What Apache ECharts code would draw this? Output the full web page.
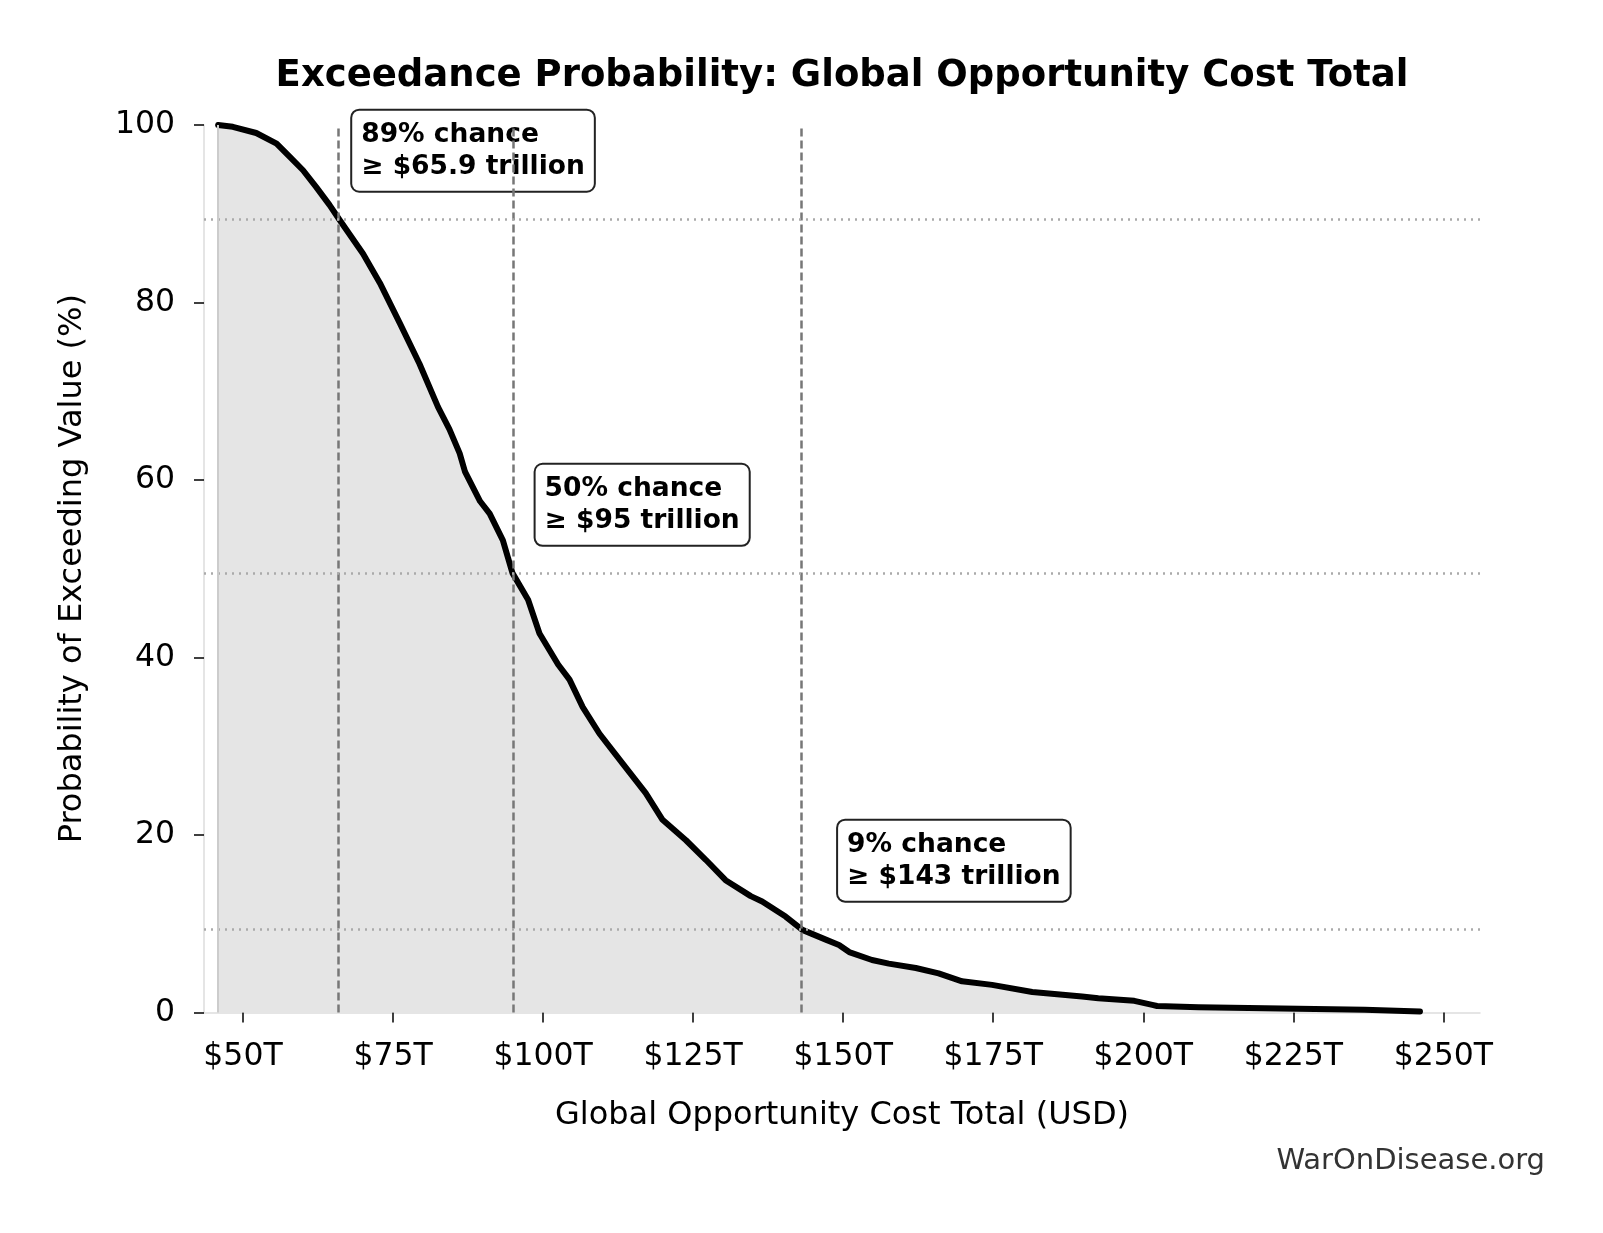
<!DOCTYPE html>
<html><head><meta charset="utf-8">
<script src="https://cdn.jsdelivr.net/npm/echarts@6/dist/echarts.min.js"></script>
<style>html,body{margin:0;padding:0;background:#fff}#c{width:1603px;height:1233px}</style>
</head><body><div id="c"></div>
<script>
// Global opportunity cost total (trillion USD) and exceedance probability (%)
const costT = [45.85, 48.3, 52.2, 55.6, 57.8, 60.0, 62.2, 64.4, 66.1, 70.0, 72.8, 76.1, 79.4, 82.5, 84.4, 86.1, 87.0, 89.5, 91.1, 93.3, 94.9, 97.5, 99.4, 102.5, 104.4, 106.6, 109.4, 113.2, 117.1, 119.9, 123.8, 127.1, 130.4, 134.6, 136.5, 140.4, 143.2, 147.1, 149.3, 151.0, 154.8, 157.6, 162.1, 165.9, 169.8, 174.8, 181.5, 189.8, 192.5, 198.5, 201.5, 202.3, 209.2, 217.5, 225.8, 236.9, 246.1];
const probPct = [100, 99.8, 99.1, 97.9, 96.4, 94.9, 93.0, 91.0, 89.3, 85.5, 82.2, 77.7, 73.1, 68.2, 65.7, 63.0, 60.9, 57.6, 56.2, 53.2, 49.5, 46.5, 42.7, 39.2, 37.5, 34.4, 31.4, 28.1, 24.7, 21.7, 19.4, 17.2, 14.9, 13.1, 12.5, 10.8, 9.3, 8.2, 7.6, 6.8, 5.9, 5.5, 5.0, 4.4, 3.5, 3.1, 2.3, 1.8, 1.6, 1.3, 0.85, 0.72, 0.57, 0.5, 0.42, 0.3, 0.1];
const xTickValues = [50, 75, 100, 125, 150, 175, 200, 225, 250];
const yTickValues = [0, 20, 40, 60, 80, 100];
const thresholdCostT = [65.9, 95, 143];
const thresholdProb = [89.4, 49.5, 9.4];
const annotationTexts = ['89% chance\n≥ $65.9 trillion', '50% chance\n≥ $95 trillion', '9% chance\n≥ $143 trillion'];

const FONT = '"DejaVu Sans", "Liberation Sans", sans-serif';
const curve = costT.map((x, i) => [x, probPct[i]]);

const chart = echarts.init(document.getElementById('c'), null, {renderer: 'canvas'});
const marks = [];
thresholdCostT.forEach(v => marks.push({xAxis: v, lineStyle: {color: '#777777', width: 2.5, type: [8, 4]}}));
thresholdProb.forEach(p => marks.push({yAxis: p, lineStyle: {color: '#aaaaaa', width: 2.5, type: [2, 5]}}));
marks.push({xAxis: costT[0], lineStyle: {color: '#cccccc', width: 2, type: 'solid'}});

chart.setOption({
  animation: false,
  backgroundColor: '#ffffff',
  grid: {left: 204, top: 125, width: 1276, height: 887.4, containLabel: false},
  xAxis: {
    type: 'value', min: 43.5, max: 256.1,
    name: 'Global Opportunity Cost Total (USD)', nameLocation: 'middle', nameGap: 87,
    nameTextStyle: {fontFamily: FONT, fontSize: 32, color: '#000'},
    axisLine: {show: true, lineStyle: {color: '#dddddd', width: 1.5}},
    axisTick: {show: true, length: 10, lineStyle: {color: '#000', width: 1.5}, customValues: xTickValues},
    axisLabel: {customValues: xTickValues, formatter: v => '$' + v + 'T', fontFamily: FONT, fontSize: 31.5, color: '#000', margin: 28},
    splitLine: {show: false}
  },
  yAxis: {
    type: 'value', min: 0, max: 100, interval: 20,
    name: 'Probability of Exceeding Value (%)', nameLocation: 'middle', nameGap: 115, nameRotate: 90,
    nameTextStyle: {fontFamily: FONT, fontSize: 32, color: '#000'},
    axisLine: {show: true, lineStyle: {color: '#dddddd', width: 1.5}},
    axisTick: {show: true, length: 10, lineStyle: {color: '#000', width: 1.5}},
    axisLabel: {fontFamily: FONT, fontSize: 31.5, color: '#000', margin: 29},
    splitLine: {show: false}
  },
  series: [
    {type: 'line', data: curve, symbol: 'none', z: 1, silent: true,
     lineStyle: {width: 0, opacity: 0}, areaStyle: {color: '#e5e5e5', opacity: 1, origin: 'start'}},
    {type: 'line', data: curve, symbol: 'none', z: 2, silent: true,
     lineStyle: {width: 0, opacity: 0},
     markLine: {silent: true, symbol: 'none', label: {show: false}, animation: false, data: marks}},
    {type: 'line', data: curve, symbol: 'none', z: 3, silent: true,
     lineStyle: {color: '#000000', width: 6, join: 'round', cap: 'round'}},
    {type: 'scatter', z: 4, symbolSize: 0, silent: true, itemStyle: {opacity: 1},
     data: thresholdCostT.map((v, i) => ({value: [v * 1.05, thresholdProb[i] + 7.7], label: {formatter: annotationTexts[i]}})),
     label: {show: true, position: 'right', distance: 0, offset: [-6, 0],
       fontFamily: FONT, fontSize: 26.5, fontWeight: 'bold', color: '#000000', opacity: 1, lineHeight: 32,
       backgroundColor: '#ffffff', borderColor: '#222222', borderWidth: 2, borderRadius: 7, padding: [8, 9, 8, 9]}}
  ],
  graphic: [
    {type: 'text', x: 842, y: 76, silent: true,
     style: {text: 'Exceedance Probability: Global Opportunity Cost Total', font: 'bold 37px ' + FONT, fill: '#000', textAlign: 'center', textVerticalAlign: 'middle'}},
    {type: 'text', x: 1545, y: 1161, silent: true,
     style: {text: 'WarOnDisease.org', font: '29px ' + FONT, fill: '#333333', textAlign: 'right', textVerticalAlign: 'middle'}}
  ]
});
</script></body></html>
